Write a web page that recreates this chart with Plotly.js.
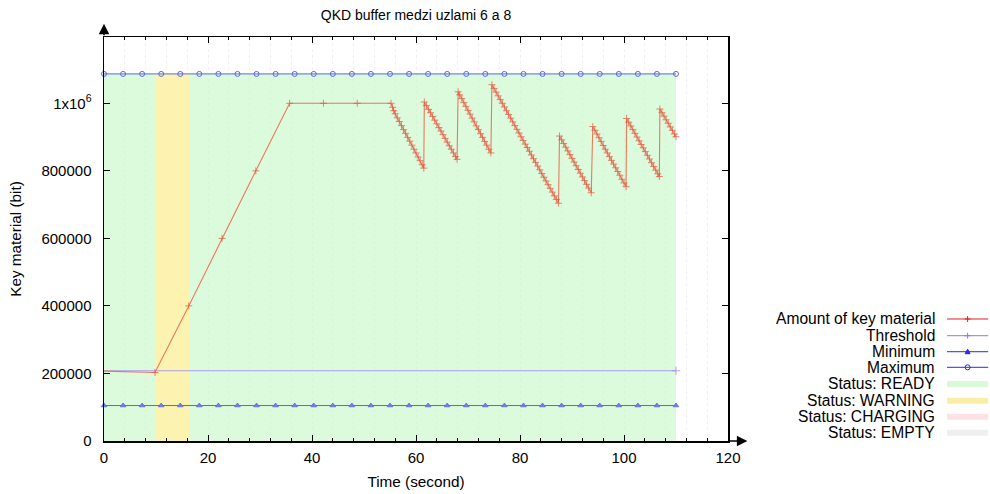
<!DOCTYPE html>
<html>
<head>
<meta charset="utf-8">
<script src="https://cdn.plot.ly/plotly-3.0.1.min.js"></script>
<style>html,body{margin:0;padding:0;background:#fff;} #chart{width:990px;height:494px;}</style>
</head>
<body>
<div id="chart"></div>
<script>
// ---- data ----
const amountX = [0, 9.8, 16.3, 22.7, 29.2, 35.7, 42.2, 48.7, 55.2, 55.5, 55.7,
  56.0, 56.4, 56.8, 57.2, 57.6, 58.0, 58.4, 58.8, 59.2, 59.6, 60.0, 60.4, 60.8, 61.2, 61.5,
  61.6, 62.0, 62.4, 62.8, 63.2, 63.6, 64.0, 64.4, 64.8, 65.2, 65.6, 66.0, 66.4, 66.8, 67.2, 67.6, 67.9,
  68.1, 68.4, 68.8, 69.2, 69.6, 70.0, 70.4, 70.8, 71.2, 71.6, 72.0, 72.4, 72.8, 73.2, 73.6, 74.0, 74.4,
  74.6, 75.0, 75.4, 75.8, 76.2, 76.6, 77.0, 77.4, 77.8, 78.2, 78.6, 79.0, 79.4, 79.8, 80.2, 80.6, 81.0,
  81.4, 81.8, 82.2, 82.6, 83.0, 83.4, 83.8, 84.2, 84.6, 85.0, 85.4, 85.8, 86.2, 86.6, 87.0, 87.4,
  87.6, 88.0, 88.4, 88.8, 89.2, 89.6, 90.0, 90.4, 90.8, 91.2, 91.6, 92.0, 92.4, 92.8, 93.2, 93.7,
  94.0, 94.4, 94.8, 95.2, 95.6, 96.0, 96.4, 96.8, 97.2, 97.6, 98.0, 98.4, 98.8, 99.2, 99.6, 100.0, 100.4,
  100.5, 100.9, 101.3, 101.7, 102.1, 102.5, 102.9, 103.3, 103.7, 104.1, 104.5, 104.9, 105.3, 105.7, 106.1, 106.5, 106.8,
  106.9, 107.3, 107.7, 108.1, 108.5, 108.9, 109.3, 109.7, 110.0];
const amountY = [207000, 203000, 400000, 600000, 800000, 1000000, 1000000, 1000000, 1000000, 988000, 978000,
  969000, 957000, 946000, 934000, 922000, 911000, 899000, 888000, 876000, 864000, 853000, 841000, 830000, 818000, 808000,
  1004000, 993000, 982000, 972000, 961000, 950000, 939000, 928000, 918000, 907000, 896000, 885000, 874000, 864000, 853000, 842000, 834000,
  1034000, 1025000, 1014000, 1002000, 991000, 979000, 968000, 956000, 945000, 933000, 922000, 910000, 899000, 887000, 876000, 864000, 853000,
  1055000, 1044000, 1033000, 1022000, 1011000, 1000000, 989000, 978000, 967000, 956000, 945000, 934000, 923000, 912000, 901000, 890000, 879000,
  869000, 858000, 847000, 836000, 825000, 814000, 803000, 792000, 781000, 770000, 759000, 748000, 737000, 726000, 715000, 704000,
  903000, 892000, 881000, 870000, 859000, 848000, 837000, 826000, 815000, 804000, 793000, 782000, 771000, 760000, 749000, 735000,
  931000, 920000, 909000, 898000, 887000, 875000, 864000, 853000, 842000, 831000, 820000, 809000, 798000, 787000, 775000, 764000, 753000,
  955000, 944000, 933000, 922000, 911000, 900000, 889000, 878000, 868000, 857000, 846000, 835000, 824000, 813000, 802000, 791000, 783000,
  983000, 972000, 962000, 951000, 941000, 930000, 920000, 909000, 901000];

const thresholdX = [0, 110];
const thresholdY = [208000, 208000];

const limitX = [0, 3.67, 7.33, 11, 14.67, 18.33, 22, 25.67, 29.33, 33, 36.67, 40.33, 44, 47.67, 51.33, 55,
  58.67, 62.33, 66, 69.67, 73.33, 77, 80.67, 84.33, 88, 91.67, 95.33, 99, 102.67, 106.33, 110];
const minimumValue = 105000;
const maximumValue = 1087000;

// status intervals [start, end] in seconds
const readyIntervals = [[0, 110]];
const warningIntervals = [[9.8, 16.5]];

const yTickVals = [0, 200000, 400000, 600000, 800000, 1000000];
const yTickText = ['0', '200000', '400000', '600000', '800000', '1x10<sup>6</sup>'];
const xTickVals = [0, 20, 40, 60, 80, 100, 120];

const legendLabels = ['Amount of key material', 'Threshold', 'Minimum', 'Maximum',
  'Status: READY', 'Status: WARNING', 'Status: CHARGING', 'Status: EMPTY'];

// ---- styles ----
const FONT = 'Liberation Sans, Arial, sans-serif';
const cRed = '#e87a5c', cRedMk = '#e2553c';
const cThr = '#ad9cf0';
const cBlue = '#5b68e0';
const fReady = 'rgba(196,247,196,0.6)';
const fWarn = '#fdf3b0';
const fCharge = '#fde1e7';
const fEmpty = '#efefef';

function statusTrace(intervals, color) {
  const xs = [], ys = [];
  intervals.forEach(iv => {
    xs.push(iv[0], iv[1], iv[1], iv[0], iv[0], null);
    ys.push(0, 0, maximumValue, maximumValue, 0, null);
  });
  return {x: xs, y: ys, type: 'scatter', mode: 'lines', fill: 'toself', fillcolor: color,
    line: {width: 0}, hoverinfo: 'skip', showlegend: false};
}
// hide the marker sitting on the y axis (x = 0)
const hideAtZero = (xs, s) => xs.map(v => (v === 0 ? 0 : s));

const traces = [
  statusTrace(readyIntervals, fReady),
  statusTrace(warningIntervals, fWarn),
  {x: limitX, y: limitX.map(() => minimumValue), type: 'scatter', mode: 'lines+markers',
    line: {color: cBlue, width: 1}, marker: {symbol: 'triangle-up', size: 5, color: '#7080e8', line: {width: 0.8, color: cBlue}},
    showlegend: false, cliponaxis: false},
  {x: limitX, y: limitX.map(() => maximumValue), type: 'scatter', mode: 'lines+markers',
    line: {color: cBlue, width: 1}, marker: {symbol: 'circle-open', size: 5, color: cBlue, line: {width: 1}},
    showlegend: false, cliponaxis: false},
  {x: thresholdX, y: thresholdY, type: 'scatter', mode: 'lines+markers',
    line: {color: cThr, width: 1}, marker: {symbol: 'cross-thin', size: hideAtZero(thresholdX, 6), line: {width: 1, color: '#9a80ee'}},
    showlegend: false, cliponaxis: false},
  {x: amountX, y: amountY, type: 'scatter', mode: 'lines+markers',
    line: {color: cRed, width: 1.1}, marker: {symbol: 'cross-thin', size: hideAtZero(amountX, 5), color: cRedMk, line: {width: 1, color: cRedMk}},
    showlegend: false, cliponaxis: false}
];

// ---- custom legend (text right-aligned, sample on the right) ----
const legRows = [0.3020, 0.2606, 0.2210, 0.1824, 0.1411, 0.0998, 0.0601, 0.0205];
const legTextX = 1.3345, legL = 1.351, legR = 1.417, legC = 1.384;
const legKinds = [
  {line: '#e02020', mk: 'plus'}, {line: '#a070e0', mk: 'plus'}, {line: '#2c2ce0', mk: 'tri'}, {line: '#2c2ce0', mk: 'circ'},
  {fill: '#d9f9d9'}, {fill: '#fbeea4'}, {fill: fCharge}, {fill: fEmpty}];

const annotations = legendLabels.map((t, i) => ({
  text: t, xref: 'paper', yref: 'paper', x: legTextX, y: legRows[i], xanchor: 'right', yanchor: 'middle',
  showarrow: false, font: {family: FONT, size: 15.6, color: '#000'}
}));
// axis arrows
annotations.push({xref: 'x', yref: 'paper', x: 0, y: 1.033, ax: 0, ay: 13, text: '', showarrow: true,
  arrowhead: 2, arrowsize: 1.4, arrowwidth: 1.5, arrowcolor: '#000', standoff: 0});
annotations.push({xref: 'paper', yref: 'y', x: 1.031, y: 0, ax: -19, ay: 0, text: '', showarrow: true,
  arrowhead: 2, arrowsize: 1.4, arrowwidth: 1.5, arrowcolor: '#000', standoff: 0});

const shapes = [];
legKinds.forEach((k, i) => {
  const y = legRows[i];
  if (k.line) {
    shapes.push({type: 'line', xref: 'paper', yref: 'paper', x0: legL, x1: legR, y0: y, y1: y, line: {color: k.line, width: 1}});
    const base = {xref: 'paper', yref: 'paper', xsizemode: 'pixel', ysizemode: 'pixel', xanchor: legC, yanchor: y};
    if (k.mk === 'plus') shapes.push(Object.assign({type: 'path', path: 'M -3 0 L 3 0 M 0 -3 L 0 3', line: {color: k.line, width: 1}}, base));
    if (k.mk === 'tri') shapes.push(Object.assign({type: 'path', path: 'M -2.5 -2 L 2.5 -2 L 0 2.5 Z', fillcolor: k.line, line: {color: k.line, width: 1}}, base));
    if (k.mk === 'circ') shapes.push(Object.assign({type: 'circle', x0: -2.5, x1: 2.5, y0: -2.5, y1: 2.5, line: {color: k.line, width: 1}}, base));
  } else {
    shapes.push({type: 'rect', xref: 'paper', yref: 'paper', ysizemode: 'pixel', yanchor: y, x0: legL, x1: legR, y0: -3, y1: 3,
      fillcolor: k.fill, line: {width: 0}});
  }
});

const layout = {
  width: 990, height: 494,
  margin: {l: 104, r: 262, t: 37, b: 53},
  paper_bgcolor: '#fff', plot_bgcolor: '#fff',
  font: {family: FONT, size: 15, color: '#000'},
  showlegend: false,
  title: {text: 'QKD buffer medzi uzlami 6 a 8', x: 0.5, xref: 'paper', xanchor: 'center',
    y: 0.969, yref: 'container', yanchor: 'middle', font: {family: FONT, size: 14, color: '#000'}},
  xaxis: {range: [0, 120], tickvals: xTickVals, ticks: 'inside', ticklen: 6, tickwidth: 1, tickcolor: '#000',
    showline: true, linecolor: '#000', linewidth: 1.5, mirror: 'ticks', zeroline: false,
    showgrid: true, gridcolor: '#f0f0f0', griddash: 'dot', gridwidth: 1,
    minor: {dtick: 4, ticks: 'inside', ticklen: 3, tickcolor: '#000', showgrid: true, gridcolor: '#f0f0f0', griddash: 'dot'},
    ticklabelstandoff: 2, tickfont: {family: FONT, size: 15, color: '#000'},
    title: {text: 'Time (second)', standoff: 12, font: {family: FONT, size: 15.3, color: '#000'}}},
  yaxis: {range: [0, 1196300], tickvals: yTickVals, ticktext: yTickText, ticks: 'inside', ticklen: 6, tickwidth: 1, tickcolor: '#000',
    showline: true, linecolor: '#000', linewidth: 1.5, mirror: 'ticks', zeroline: false, showgrid: false,
    ticklabelstandoff: 8, tickfont: {family: FONT, size: 15, color: '#000'},
    title: {text: 'Key material (bit)', standoff: 16, font: {family: FONT, size: 15.3, color: '#000'}}},
  annotations: annotations,
  shapes: shapes
};

Plotly.newPlot('chart', traces, layout, {staticPlot: true, displayModeBar: false});
</script>
</body>
</html>
